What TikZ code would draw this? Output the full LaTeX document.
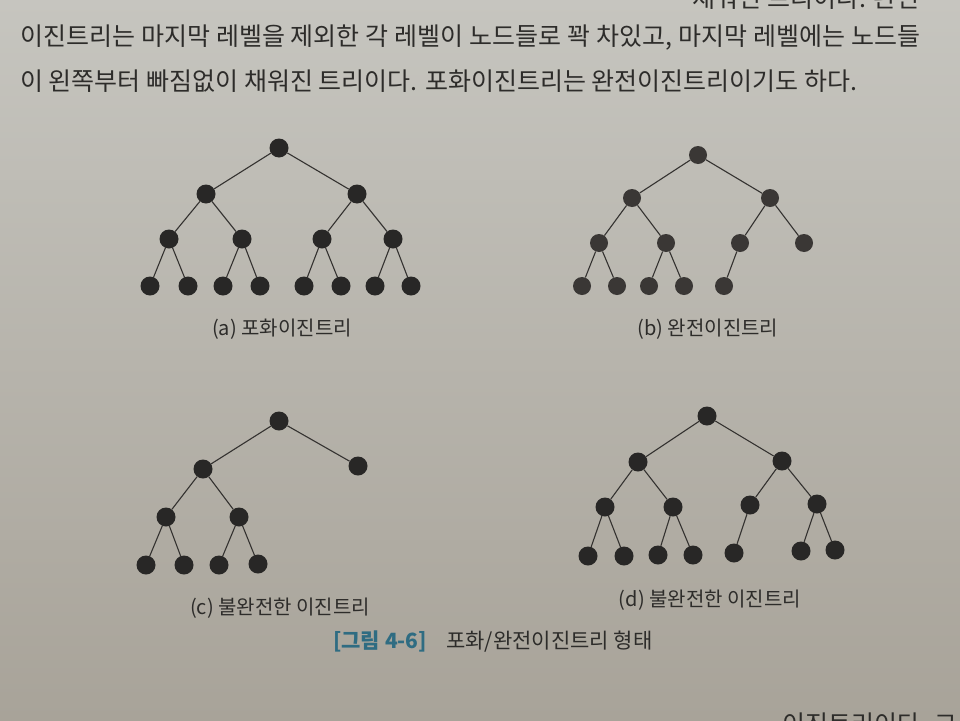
\documentclass[tikz,border=0pt]{standalone}
\usepackage{fontspec}
\setmainfont{Noto Sans CJK KR}
\definecolor{bgtop}{RGB}{198,197,191}
\definecolor{bgbot}{RGB}{168,163,153}
\definecolor{ink}{RGB}{45,44,42}
\definecolor{nodecol}{RGB}{40,39,38}
\definecolor{nodecolb}{RGB}{58,55,53}
\definecolor{edgecol}{RGB}{52,50,48}
\definecolor{teal}{RGB}{47,108,130}
\tikzset{
  nd/.style={circle, fill=nodecol, minimum size=19pt, inner sep=0pt},
  ndb/.style={circle, fill=nodecolb, minimum size=18pt, inner sep=0pt},
  ed/.style={draw=edgecol, line width=1.1pt},
  bodytext/.style={text=ink, font=\fontsize{25}{30}\selectfont, inner sep=0pt},
  captext/.style={text=ink, font=\fontsize{20}{24}\selectfont, inner sep=0pt},
}
\begin{document}
\begin{tikzpicture}[x=1pt,y=-1pt]
\useasboundingbox (0,0) rectangle (960,720);
\shade[top color=bgtop, bottom color=bgbot] (0,0) rectangle (960,720);
% body text
\begin{scope}
\clip (0,0) rectangle (960,720);
\node[bodytext, anchor=base east] (t0) at (920,7) {채워진 트리이다. 완전};
\node[bodytext, anchor=base east] (t3) at (958,733) {이진트리이다. 그};
\end{scope}
\node[bodytext, anchor=base west] (t1) at (20,45) {\makebox[900pt][s]{이진트리는 마지막 레벨을 제외한 각 레벨이 노드들로 꽉 차있고, 마지막 레벨에는 노드들}};
\node[bodytext, anchor=base west] (t2) at (20,90) {이 왼쪽부터 빠짐없이 채워진 트리이다. 포화이진트리는 완전이진트리이기도 하다.};
% tree (a)
\node[nd] (a0) at (279,148) {};
\node[nd] (a1) at (206,194) {};
\node[nd] (a2) at (357,194) {};
\node[nd] (a3) at (169,239) {};
\node[nd] (a4) at (242,239) {};
\node[nd] (a5) at (322,239) {};
\node[nd] (a6) at (393,239) {};
\node[nd] (a7) at (150,286) {};
\node[nd] (a8) at (188,286) {};
\node[nd] (a9) at (223,286) {};
\node[nd] (a10) at (260,286) {};
\node[nd] (a11) at (304,286) {};
\node[nd] (a12) at (341,286) {};
\node[nd] (a13) at (375,286) {};
\node[nd] (a14) at (411,286) {};
\draw[ed] (a0)--(a1) (a0)--(a2) (a1)--(a3) (a1)--(a4) (a2)--(a5) (a2)--(a6)
  (a3)--(a7) (a3)--(a8) (a4)--(a9) (a4)--(a10) (a5)--(a11) (a5)--(a12) (a6)--(a13) (a6)--(a14);
\node[captext, anchor=base] (ca) at (282,335) {(a) 포화이진트리};
% tree (b)
\node[ndb] (b0) at (698,155) {};
\node[ndb] (b1) at (632,198) {};
\node[ndb] (b2) at (770,198) {};
\node[ndb] (b3) at (599,243) {};
\node[ndb] (b4) at (666,243) {};
\node[ndb] (b5) at (740,243) {};
\node[ndb] (b6) at (804,243) {};
\node[ndb] (b7) at (582,286) {};
\node[ndb] (b8) at (617,286) {};
\node[ndb] (b9) at (649,286) {};
\node[ndb] (b10) at (684,286) {};
\node[ndb] (b11) at (724,286) {};
\draw[ed] (b0)--(b1) (b0)--(b2) (b1)--(b3) (b1)--(b4) (b2)--(b5) (b2)--(b6)
  (b3)--(b7) (b3)--(b8) (b4)--(b9) (b4)--(b10) (b5)--(b11);
\node[captext, anchor=base] (cb) at (708,335) {(b) 완전이진트리};
% tree (c)
\node[nd] (c0) at (279,421) {};
\node[nd] (c1) at (203,469) {};
\node[nd] (c2) at (358,466) {};
\node[nd] (c3) at (166,517) {};
\node[nd] (c4) at (239,517) {};
\node[nd] (c5) at (146,565) {};
\node[nd] (c6) at (184,565) {};
\node[nd] (c7) at (219,565) {};
\node[nd] (c8) at (258,564) {};
\draw[ed] (c0)--(c1) (c0)--(c2) (c1)--(c3) (c1)--(c4)
  (c3)--(c5) (c3)--(c6) (c4)--(c7) (c4)--(c8);
\node[captext, anchor=base] (cc) at (280,614) {(c) 불완전한 이진트리};
% tree (d)
\node[nd] (d0) at (707,416) {};
\node[nd] (d1) at (638,462) {};
\node[nd] (d2) at (782,461) {};
\node[nd] (d3) at (605,507) {};
\node[nd] (d4) at (673,507) {};
\node[nd] (d5) at (750,505) {};
\node[nd] (d6) at (817,504) {};
\node[nd] (d7) at (588,556) {};
\node[nd] (d8) at (624,556) {};
\node[nd] (d9) at (658,555) {};
\node[nd] (d10) at (693,555) {};
\node[nd] (d11) at (734,553) {};
\node[nd] (d12) at (801,551) {};
\node[nd] (d13) at (835,550) {};
\draw[ed] (d0)--(d1) (d0)--(d2) (d1)--(d3) (d1)--(d4) (d2)--(d5) (d2)--(d6)
  (d3)--(d7) (d3)--(d8) (d4)--(d9) (d4)--(d10) (d5)--(d11) (d6)--(d12) (d6)--(d13);
\node[captext, anchor=base] (cd) at (710,606) {(d) 불완전한 이진트리};
% figure caption
\node[text=teal, font=\fontsize{21}{25}\selectfont\bfseries, inner sep=0pt, anchor=base west] (fig) at (333,648) {[그림 4-6]};
\node[text=ink, font=\fontsize{21}{25}\selectfont, inner sep=0pt, anchor=base west] (figt) at (446,648) {포화/완전이진트리 형태};
\end{tikzpicture}
\end{document}
